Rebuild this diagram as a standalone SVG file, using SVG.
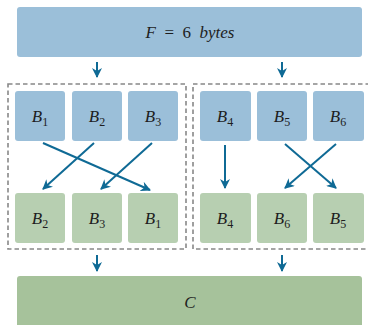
<svg xmlns="http://www.w3.org/2000/svg" width="368" height="325" viewBox="0 0 368 325">
<style>
.blue{fill:#9bbfd9}
.green{fill:#b7cfb1}
.big{fill:#a6c29b}
.dash{fill:none;stroke:#888;stroke-width:1.6;stroke-dasharray:4.5 3}
.ar{stroke:#0f6a95;stroke-width:2;fill:none;marker-end:url(#ah)}
text{font-family:"Liberation Serif","DejaVu Serif",serif;font-size:17px;fill:#1e1e1e;text-anchor:middle}
.it{font-style:italic}
.sub{font-size:12px;font-style:normal}
</style>
<defs>
<marker id="ah" viewBox="0 0 10 10" refX="9" refY="5" markerWidth="5" markerHeight="5" orient="auto" markerUnits="strokeWidth">
<path d="M0,0 L10,5 L0,10 L3,5 Z" fill="#0f6a95"/>
</marker>
</defs>
<g id="F"><rect class="blue" x="17" y="7" width="345" height="50" rx="3"/>
<text x="190" y="38" xml:space="preserve"><tspan class="it">F</tspan>  =  6  <tspan class="it">bytes</tspan></text></g>
<g id="groupL"><rect class="dash" x="8" y="84" width="178" height="165"/></g>
<g id="groupR"><rect class="dash" x="193" y="84" width="180" height="165"/></g>
<g id="a1"><rect class="blue" x="15" y="91" width="50" height="50" rx="3"/><text x="40" y="122"><tspan class="it">B</tspan><tspan class="sub" dy="4">1</tspan></text></g>
<g id="a2"><rect class="blue" x="72" y="91" width="50" height="50" rx="3"/><text x="97" y="122"><tspan class="it">B</tspan><tspan class="sub" dy="4">2</tspan></text></g>
<g id="a3"><rect class="blue" x="128" y="91" width="50" height="50" rx="3"/><text x="153" y="122"><tspan class="it">B</tspan><tspan class="sub" dy="4">3</tspan></text></g>
<g id="a4"><rect class="blue" x="200" y="91" width="51" height="50" rx="3"/><text x="225" y="122"><tspan class="it">B</tspan><tspan class="sub" dy="4">4</tspan></text></g>
<g id="a5"><rect class="blue" x="257" y="91" width="50" height="50" rx="3"/><text x="282" y="122"><tspan class="it">B</tspan><tspan class="sub" dy="4">5</tspan></text></g>
<g id="a6"><rect class="blue" x="313" y="91" width="51" height="50" rx="3"/><text x="338" y="122"><tspan class="it">B</tspan><tspan class="sub" dy="4">6</tspan></text></g>
<g id="b1"><rect class="green" x="15" y="193" width="50" height="50" rx="3"/><text x="40" y="224"><tspan class="it">B</tspan><tspan class="sub" dy="4">2</tspan></text></g>
<g id="b2"><rect class="green" x="72" y="193" width="50" height="50" rx="3"/><text x="97" y="224"><tspan class="it">B</tspan><tspan class="sub" dy="4">3</tspan></text></g>
<g id="b3"><rect class="green" x="128" y="193" width="50" height="50" rx="3"/><text x="153" y="224"><tspan class="it">B</tspan><tspan class="sub" dy="4">1</tspan></text></g>
<g id="b4"><rect class="green" x="200" y="193" width="51" height="50" rx="3"/><text x="225" y="224"><tspan class="it">B</tspan><tspan class="sub" dy="4">4</tspan></text></g>
<g id="b5"><rect class="green" x="257" y="193" width="50" height="50" rx="3"/><text x="282" y="224"><tspan class="it">B</tspan><tspan class="sub" dy="4">6</tspan></text></g>
<g id="b6"><rect class="green" x="313" y="193" width="51" height="50" rx="3"/><text x="338" y="224"><tspan class="it">B</tspan><tspan class="sub" dy="4">5</tspan></text></g>
<g id="C"><rect class="big" x="17" y="276" width="345" height="60" rx="3"/>
<text class="it" x="190" y="308">C</text></g>
<g id="connectors">
<line class="ar" x1="97" y1="62" x2="97" y2="77"/>
<line class="ar" x1="282" y1="62" x2="282" y2="77"/>
<line class="ar" x1="97" y1="255" x2="97" y2="271"/>
<line class="ar" x1="282" y1="255" x2="282" y2="271"/>
<line class="ar" x1="43" y1="143" x2="150" y2="190"/>
<line class="ar" x1="94" y1="143" x2="43" y2="189"/>
<line class="ar" x1="152" y1="143" x2="101" y2="189"/>
<line class="ar" x1="225" y1="145" x2="225" y2="188"/>
<line class="ar" x1="285" y1="144" x2="336" y2="188"/>
<line class="ar" x1="336" y1="144" x2="285" y2="188"/>
</g>
</svg>
